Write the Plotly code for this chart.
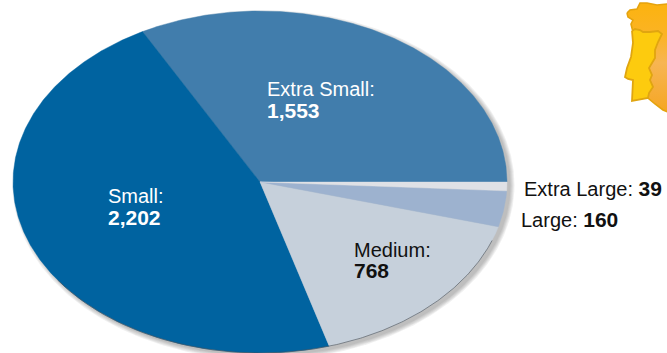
import numpy as np
import plotly.graph_objects as go

# Unit sales by size, drawn counter-clockwise from the 3 o'clock position
sizes = ["Extra Small", "Small", "Medium", "Large", "Extra Large"]
units = [1553, 2202, 768, 160, 39]
slice_colors = ["#417dac", "#0063a0", "#c6d0db", "#9db2cf", "#dfe1e6"]

# Tilted-disc geometry
CX, CY, RX, RY = 260, 182, 247, 171

# Iberia outline for the locator map
spain_x = [627, 630, 637, 640, 647, 657, 667, 668, 668, 663, 655, 648, 640, 633, 631, 633, 628, 627]
spain_y = [13, 10, 9, 3, 3, 5, 4, 4, 112, 110, 104, 98, 60, 31, 24, 20, 17, 13]
portugal_x = [632, 635, 640, 643, 650, 658, 662, 658, 655, 655, 652, 649, 652, 650, 653, 649, 648, 638, 632, 633, 628, 625, 627, 631, 633, 632]
portugal_y = [31, 29, 30, 32, 32, 31, 34, 42, 50, 58, 63, 68, 75, 80, 87, 93, 98, 100, 101, 80, 79, 77, 68, 57, 43, 31]

FONT = "Liberation Sans, Helvetica, Arial, sans-serif"


def ellipse_arc(t0, t1, cx=CX, cy=CY, rx=RX, ry=RY):
    t = np.linspace(t0, t1, max(int(abs(t1 - t0) * 2), 2) + 1)
    return cx + rx * np.cos(t * np.pi / 180), cy - ry * np.sin(t * np.pi / 180)


def bold(value, size=21):
    return f'<span style="font-size:{size}px"><b>{value}</b></span>'


fig = go.Figure()

# Soft drop shadow: stacked translucent discs growing towards the lower right
for grow in [4, 3, 2, 1, 0]:
    sx, sy = ellipse_arc(0, 360, CX + 3.5, CY + 3, RX + grow, RY + grow)
    fig.add_trace(go.Scatter(x=sx, y=sy, mode="lines", fill="toself", line=dict(width=0),
                             fillcolor="rgba(60,60,60,0.08)", hoverinfo="skip"))

# Slices: each one spans an angle proportional to its value
total = sum(units)
start = 0.0
for name, value, color in zip(sizes, units, slice_colors):
    end = start + 360.0 * value / total
    ax, ay = ellipse_arc(start, end)
    fig.add_trace(go.Scatter(x=np.r_[CX, ax, CX], y=np.r_[CY, ay, CY], mode="lines",
                             fill="toself", fillcolor=color, line=dict(width=0.4, color=color),
                             name=name, hoverinfo="name"))
    start = end

# Dark rim along the lower edge of the disc
rx_, ry_ = ellipse_arc(215, 340)
fig.add_trace(go.Scatter(x=rx_, y=ry_, mode="lines", line=dict(width=0.6, color="#4a5058"), hoverinfo="skip"))

# Locator map
fig.add_trace(go.Scatter(x=spain_x, y=spain_y, mode="lines", fill="toself",
                         line=dict(width=1.6, color="#e5a30e"),
                         fillgradient=dict(type="vertical",
                                           colorscale=[[0, "#f5a623"], [0.45, "#f7b552"], [0.7, "#fbb325"], [1, "#fcb30f"]]),
                         hoverinfo="skip"))
fig.add_trace(go.Scatter(x=portugal_x, y=portugal_y, mode="lines", fill="toself",
                         fillcolor="#fdcb0e", line=dict(width=1.8, color="#e0a510"), hoverinfo="skip"))

labels = [
    (266, 89, "Extra Small:", "#ffffff"),
    (266, 110, bold("1,553"), "#ffffff"),
    (107, 196, "Small:", "#ffffff"),
    (107, 217, bold("2,202"), "#ffffff"),
    (353, 250, "Medium:", "#111111"),
    (353, 270, bold("768"), "#111111"),
    (523, 188, "Extra Large: " + bold("39"), "#111111"),
    (520, 219, "Large: " + bold("160"), "#111111"),
]
for x, y, text, color in labels:
    fig.add_annotation(x=x, y=y, text=text, showarrow=False, xanchor="left", yanchor="middle",
                       borderpad=0, font=dict(family=FONT, size=20, color=color))

fig.update_layout(
    width=667, height=353, margin=dict(l=0, r=0, t=0, b=0),
    paper_bgcolor="white", plot_bgcolor="white", showlegend=False,
    xaxis=dict(range=[0, 667], visible=False, fixedrange=True),
    yaxis=dict(range=[353, 0], visible=False, fixedrange=True),
)
fig.write_html("out.html", config={"displayModeBar": False})
